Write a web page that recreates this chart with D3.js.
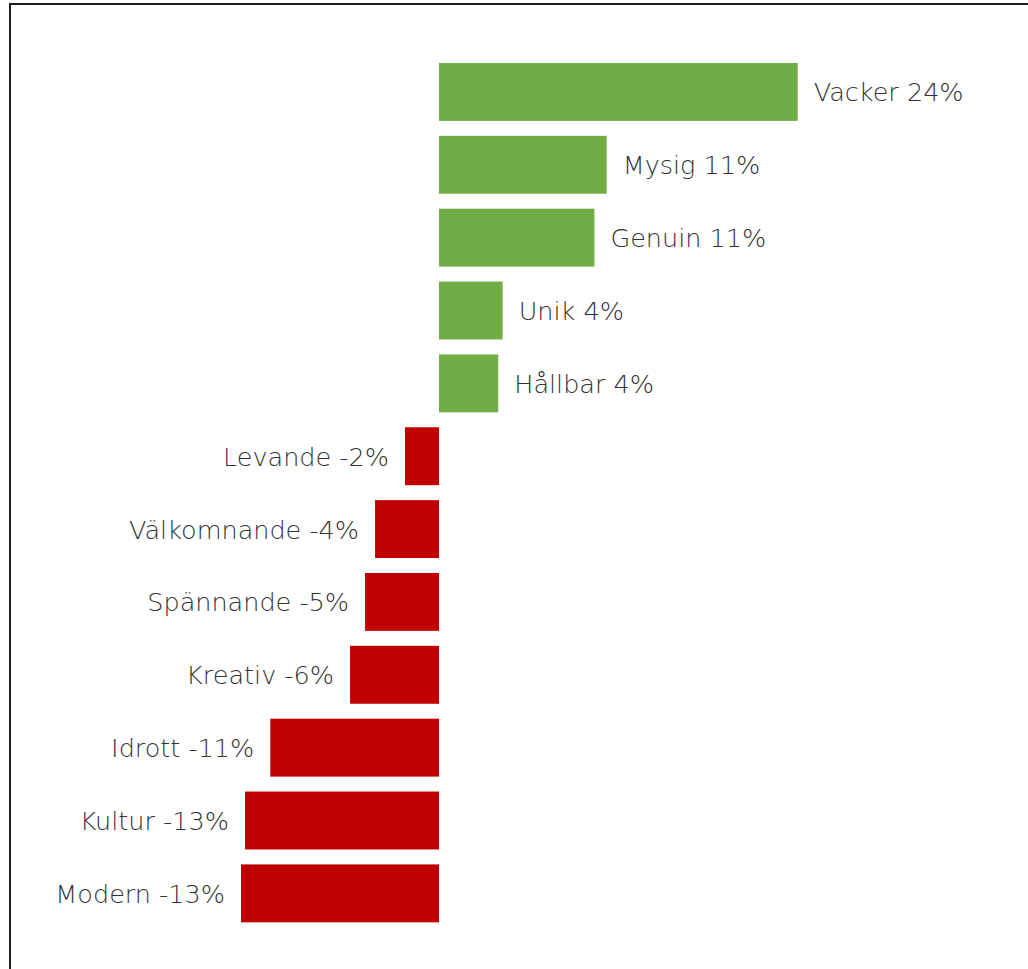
<!DOCTYPE html>
<html>
<head>
<meta charset="utf-8">
<script src="https://cdn.jsdelivr.net/npm/d3@7"></script>
<style>
  html, body { margin: 0; padding: 0; background: #fff; }
  svg { display: block; }
</style>
</head>
<body>
<svg id="chart" width="1028" height="969"></svg>
<script>
// Word associations: net share (%) per word, top to bottom
const categories = ["Vacker", "Mysig", "Genuin", "Unik", "Hållbar", "Levande",
  "Välkomnande", "Spännande", "Kreativ", "Idrott", "Kultur", "Modern"];
const netShare = [24.35, 11.38, 10.55, 4.32, 4.02, -2.31,
  -4.34, -5.02, -6.04, -11.45, -13.17, -13.44];

const positiveColor = "#70AD47";
const negativeColor = "#C00000";
const labelColor = "#333333";

const width = 1028, height = 969;
const svg = d3.select("#chart");

// Chart frame
svg.append("rect")
  .attr("x", 10).attr("y", 4)
  .attr("width", width + 20).attr("height", height + 20)
  .attr("fill", "#fff")
  .attr("stroke", "#1e1e1e")
  .attr("stroke-width", 2);

const data = categories.map((c, i) => ({ name: c, value: netShare[i] }));

// Horizontal value scale, zero line at x = 439
const pxPerUnit = 14.73;
const x = d3.scaleLinear()
  .domain([-15, 30])
  .range([439 - 15 * pxPerUnit, 439 + 30 * pxPerUnit]);

const y = d3.scaleBand()
  .domain(categories)
  .range([48.4, 936.9])
  .paddingInner(0.205)
  .paddingOuter(0.2);

const g = svg.append("g");

g.selectAll("rect.bar")
  .data(data)
  .join("rect")
  .attr("class", "bar")
  .attr("x", d => x(Math.min(0, d.value)))
  .attr("y", d => y(d.name))
  .attr("width", d => Math.abs(x(d.value) - x(0)))
  .attr("height", y.bandwidth())
  .attr("fill", d => d.value >= 0 ? positiveColor : negativeColor);

const fmt = v => `${Math.round(v)}%`;
const gap = 16;

g.selectAll("text.label")
  .data(data)
  .join("text")
  .attr("class", "label")
  .attr("x", d => d.value >= 0 ? x(d.value) + gap : x(d.value) - gap)
  .attr("y", d => y(d.name) + y.bandwidth() / 2)
  .attr("dy", "0.37em")
  .attr("text-anchor", d => d.value >= 0 ? "start" : "end")
  .attr("font-family", "'DejaVu Sans', sans-serif")
  .attr("font-weight", 200)
  .attr("font-size", 25.5)
  .attr("fill", labelColor)
  .text(d => `${d.name} ${fmt(d.value)}`);
</script>
</body>
</html>
